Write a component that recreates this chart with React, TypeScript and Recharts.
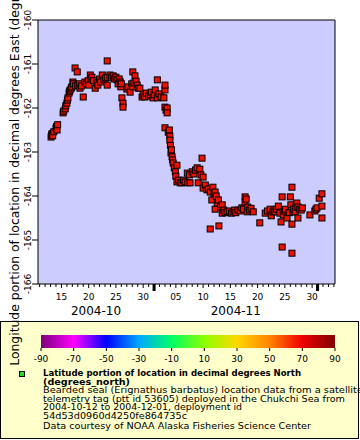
import React from 'react';
import { ScatterChart, Scatter, XAxis, YAxis, CartesianGrid } from 'recharts';

// day index: 1 = 2004-10-01, 32 = 2004-11-01, 62 = 2004-12-01
const obsDay = [
  13.1, 13.2, 13.3, 13.4, 13.6, 14.0, 14.1, 14.2, 14.3,
  15.3, 15.4, 15.7, 15.8, 16.0, 16.1, 16.2, 16.4, 16.5, 16.6, 16.8, 16.9, 17.1, 17.2, 17.5, 17.6, 17.9,
  18.0, 18.3, 18.4, 18.7, 19.0, 19.3, 19.6, 19.9, 20.0, 20.3, 20.4, 20.6, 20.9, 21.2, 21.5,
  21.7, 22.0, 22.2, 22.5, 22.8, 23.1, 23.4, 23.4, 23.4, 23.9, 24.2, 24.5, 24.7, 25.0, 25.2, 25.4, 25.6,
  25.8, 25.9, 26.0, 26.1, 26.3, 26.3, 27.0, 27.2, 27.6, 27.9, 28.1, 28.1, 28.3, 28.5, 28.7, 28.9, 29.1,
  29.4, 29.8, 30.0, 30.3, 30.6, 31.0, 31.3, 31.5, 31.8, 32.0, 32.2, 32.6, 32.6, 32.9, 33.3,
  33.8, 34.0, 34.0, 34.0, 34.2, 34.4, 34.4, 34.0, 34.6, 34.8, 34.9, 34.9, 35.0, 35.1, 35.2, 35.3, 35.4,
  35.5, 35.7, 35.9, 36.0, 36.2, 36.2, 36.5, 36.8, 37.1, 37.4, 37.7, 38.1, 38.2, 38.5, 38.6, 39.0, 39.3,
  39.6, 39.9, 40.1, 40.4, 40.6, 40.8, 41.0, 41.0,
  41.4, 41.7, 42.0, 42.3, 42.6, 42.8, 43.0, 43.2, 43.2, 43.4, 43.6, 43.8, 44.2, 44.5, 44.5, 44.8, 45.0,
  45.4, 45.8, 46.2, 46.5, 46.8, 47.0, 47.4, 47.8, 48.1, 48.4, 48.7, 48.7, 48.9, 49.1, 49.2, 49.5, 49.8,
  50.2, 42.3, 43.9, 51.4,
  52.4, 52.8, 53.3, 53.5, 53.8, 54.0, 54.2, 54.5, 54.8, 55.1, 55.3, 55.5, 55.7, 55.9, 56.1, 56.4, 56.8,
  57.0, 57.1, 57.3, 57.3, 57.5, 57.6, 57.9, 58.0, 58.2, 58.4, 58.4, 58.7, 59.0, 59.2, 60.6, 61.5, 61.7,
  61.9, 62.3, 62.8, 62.8, 62.8, 55.5, 57.3,
];

const obsLon = [
  -162.66, -162.61, -162.58, -162.63, -162.54, -162.46, -162.42, -162.5, -162.38,
  -162.11, -162.07, -162.02, -161.95, -161.89, -161.82, -161.77, -161.66, -161.62, -161.59, -161.55, -161.52, -161.41, -161.45, -161.09, -161.5, -161.18,
  -161.48, -161.45, -161.55, -161.5, -161.75, -161.41, -161.45, -161.38, -161.48, -161.25, -161.34, -161.3, -161.38, -161.55, -161.43,
  -161.48, -161.34, -161.41, -161.25, -161.36, -161.32, -160.93, -161.3, -161.48, -161.25, -161.3, -161.27, -161.34, -161.3, -161.36, -161.45, -161.34,
  -161.41, -161.52, -161.45, -161.77, -161.89, -161.98, -161.57, -161.52, -161.64, -161.45, -161.18, -161.52, -161.43, -161.27, -161.39, -161.48, -161.55,
  -161.55, -161.75, -161.7, -161.75, -161.66, -161.73, -161.7, -161.64, -161.77, -161.7, -161.59, -161.36, -161.77, -161.68, -161.75,
  -161.77, -161.59, -161.98, -161.48, -162.05, -162.0, -162.11, -162.45, -162.55, -162.5, -162.64, -162.73, -162.85, -163.02, -162.95, -163.11, -163.18,
  -163.25, -163.36, -163.45, -163.55, -163.3, -163.68, -163.64, -163.7, -163.7, -163.64, -163.68, -163.48, -163.7, -163.52, -163.7, -163.45, -163.5,
  -163.41, -163.36, -163.7, -163.39, -163.52, -163.14, -163.57, -163.82,
  -163.75, -163.86, -163.84, -163.91, -164.09, -163.8, -163.95, -163.91, -164.3, -164.0, -164.16, -164.09, -164.25, -164.2, -164.39, -164.32, -164.38,
  -164.36, -164.34, -164.39, -164.36, -164.32, -164.38, -164.32, -164.34, -164.27, -164.3, -164.02, -164.14, -164.07, -164.36, -164.25, -164.32, -164.28,
  -164.36, -164.75, -164.68, -164.61,
  -164.39, -164.34, -164.3, -164.45, -164.36, -164.32, -164.36, -164.3, -164.23, -164.39, -164.59, -164.02, -164.43, -164.34, -164.3, -164.5, -164.38,
  -164.02, -164.2, -163.8, -164.64, -164.36, -164.3, -164.36, -164.25, -164.16, -164.25, -164.5, -164.3, -164.32, -164.27, -164.43, -164.34, -164.3,
  -164.27, -164.05, -163.95, -164.23, -164.5, -165.16, -165.3,
];

const points = obsDay.map((d, i) => ({ day: d, lon: obsLon[i] }));

const lonTicks = [-166, -165, -164, -163, -162, -161, -160];
const dayTicks = Array.from({ length: 55 }, (_, i) => 11 + i);
const dayLabels: Record<number, string> = {
  15: '15', 20: '20', 25: '25', 30: '30', 36: '05', 41: '10', 46: '15', 51: '20', 56: '25', 61: '30',
};
const monthStarts = [32, 62];
const monthCenters = [21.35, 47];
const monthNames = ['2004-10', '2004-11'];
const xTicks = [...dayTicks, ...monthCenters.filter((c) => !dayTicks.includes(c))].sort((a, b) => a - b);

const barTicks = [-90, -70, -50, -30, -10, 10, 30, 50, 70, 90];
const barColors = ['#7d007d', '#ff00ff', '#0000ff', '#00a8ff', '#00ff66', '#8cff00', '#ffd800', '#ff8400', '#f00000', '#800000'];

const yTitle = 'Longitude portion of location in decimal degrees East (degrees_east)';
const legendTitle = ['Latitude portion of location in decimal degrees North', '(degrees_north)'];
const legendLines = [
  'Bearded seal (Erignathus barbatus) location data from a satellite',
  'telemetry tag (ptt id 53605) deployed in the Chukchi Sea from',
  '2004-10-12 to 2004-12-01, deployment id',
  '54d53d0960d4250fe864735c',
  'Data courtesy of NOAA Alaska Fisheries Science Center',
];

const FONT = 'DejaVu Sans, sans-serif';
const PLOT_BG = '#ccccff';
const DOT = '#f01000';

function DayTick(props: any) {
  const { x, y, payload } = props;
  const v = Number(payload.value);
  const isDay = Number.isInteger(v);
  const isMonth = monthStarts.includes(v);
  const label = dayLabels[v];
  const m = monthCenters.indexOf(v);
  return (
    <g>
      {isDay && (
        <line x1={x} x2={x} y1={y} y2={y + (isMonth ? 7 : label ? 4 : 3)} stroke="#000" strokeWidth={isMonth ? 3 : 1} />
      )}
      {label && (
        <text x={x} y={y + 15.5} textAnchor="middle" fontSize={9} fontFamily={FONT} fill="#000">
          {label}
        </text>
      )}
      {m >= 0 && (
        <text x={x} y={y + 31} textAnchor="middle" fontSize={12} fontFamily={FONT} fill="#000">
          {monthNames[m]}
        </text>
      )}
    </g>
  );
}

function LonTick(props: any) {
  const { x, y, payload } = props;
  return (
    <g>
      <line x1={x - 6} x2={x} y1={y} y2={y} stroke="#000" />
      <text
        x={x - 7}
        y={y}
        transform={`rotate(-90 ${x - 7} ${y})`}
        textAnchor="middle"
        fontSize={9}
        fontFamily={FONT}
        fill="#000"
      >
        {payload.value}
      </text>
    </g>
  );
}

function SquareDot(props: any) {
  const { cx, cy } = props;
  if (cx == null || cy == null) return null;
  return <rect x={cx - 3} y={cy - 3} width={6} height={6} fill={DOT} stroke="#000" strokeWidth={1} />;
}

function Legend() {
  const x0 = 41;
  const x1 = 335;
  const step = (x1 - x0) / (barTicks.length - 1);
  const ys = [393, 401.5, 410, 418.5, 429];
  const lens = [320, 302, 199, 144, 268];
  return (
    <svg width={360} height={440} style={{ position: 'absolute', left: 0, top: 0 }}>
      <defs>
        <linearGradient id="rainbow" x1="0" y1="0" x2="1" y2="0">
          {barColors.map((c, i) => (
            <stop key={i} offset={i / (barColors.length - 1)} stopColor={c} />
          ))}
        </linearGradient>
      </defs>
      <rect x={0.5} y={321.5} width={358} height={117} fill="#ffffcc" stroke="#000" />
      <rect x={x0} y={335} width={x1 - x0} height={13} fill="url(#rainbow)" />
      {barTicks.map((t, i) => (
        <g key={t}>
          <line x1={x0 + i * step} x2={x0 + i * step} y1={348} y2={351} stroke="#000" />
          <text x={x0 + i * step} y={361.5} textAnchor="middle" fontSize={9} fontFamily={FONT} fill="#000">
            {t}
          </text>
        </g>
      ))}
      <rect x={19.5} y={371.5} width={5} height={5} fill="#22dd22" stroke="#000" />
      <text x={43} y={376} fontSize={9} fontWeight="bold" fontFamily={FONT} textLength={258} lengthAdjust="spacingAndGlyphs">
        {legendTitle[0]}
      </text>
      <text x={43} y={384.5} fontSize={9} fontWeight="bold" fontFamily={FONT} textLength={87} lengthAdjust="spacingAndGlyphs">
        {legendTitle[1]}
      </text>
      {legendLines.map((s, i) => (
        <text key={i} x={43} y={ys[i]} fontSize={9} fontFamily={FONT} textLength={lens[i]} lengthAdjust="spacingAndGlyphs">
          {s}
        </text>
      ))}
      <text x={18.5} y={152} transform="rotate(-90 18.5 152)" textAnchor="middle" fontSize={12.4} fontFamily={FONT} fill="#000">
        {yTitle}
      </text>
    </svg>
  );
}

export default function App() {
  return (
    <div style={{ position: 'absolute', left: 0, top: 0, width: 360, height: 440, background: '#fff', overflow: 'hidden' }}>
      <Legend />
      <div style={{ position: 'absolute', left: 0, top: 0 }}>
        <ScatterChart width={360} height={440} margin={{ top: 19, right: 24, bottom: 155, left: 37 }}>
          <CartesianGrid horizontal={false} vertical={false} fill={PLOT_BG} />
          <XAxis
            dataKey="day"
            type="number"
            domain={[10.7, 65.2]}
            ticks={xTicks}
            interval={0}
            height={1}
            tickSize={0}
            tickMargin={0}
            tick={<DayTick />}
            axisLine={{ stroke: '#000' }}
            allowDataOverflow
          />
          <XAxis xAxisId="top" orientation="top" type="number" domain={[10.7, 65.2]} height={1} tick={false} tickLine={false} axisLine={{ stroke: '#000' }} />
          <YAxis
            dataKey="lon"
            type="number"
            domain={[-166, -160]}
            ticks={lonTicks}
            interval={0}
            width={1}
            tickSize={0}
            tickMargin={0}
            tick={<LonTick />}
            axisLine={{ stroke: '#000' }}
            allowDataOverflow
          />
          <YAxis yAxisId="right" orientation="right" type="number" domain={[-166, -160]} width={1} tick={false} tickLine={false} axisLine={{ stroke: '#000' }} />
          <Scatter data={points} shape={<SquareDot />} isAnimationActive={false} />
        </ScatterChart>
      </div>
    </div>
  );
}
